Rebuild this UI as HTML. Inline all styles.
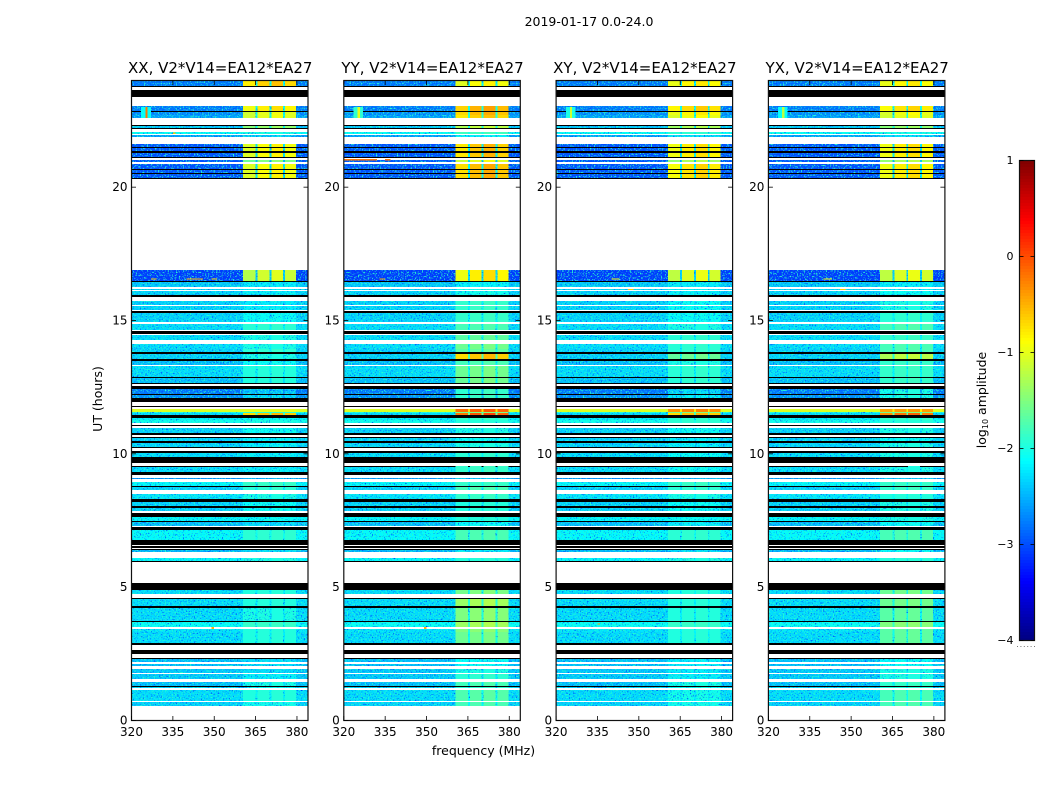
<!DOCTYPE html>
<html lang="en">
<head>
<meta charset="utf-8">
<title>2019-01-17 0.0-24.0 dynamic spectra</title>
<style>
html,body{margin:0;padding:0;background:#fff;width:1050px;height:800px;overflow:hidden}
svg{display:block}
text{font-family:"DejaVu Sans","Liberation Sans",sans-serif;fill:#000}
</style>
</head>
<body>
<svg id="chart" xmlns="http://www.w3.org/2000/svg" width="1050" height="800" viewBox="0 0 1050 800">
  <defs>
    <filter id="speckle" x="0" y="0" width="1050" height="800" filterUnits="userSpaceOnUse" color-interpolation-filters="sRGB">
      <feTurbulence type="fractalNoise" baseFrequency="0.72" numOctaves="1" seed="7" result="n"/>
      <feColorMatrix in="n" type="matrix" values="0 0 0 0 0  0 0 0 0 0.3  0 0 0 0 1  5 0 0 0 -2.8" result="dark"/>
      <feComposite in="dark" in2="SourceAlpha" operator="in" result="darkClip"/>
      <feColorMatrix in="n" type="matrix" values="0 0 0 0 0.15  0 0 0 0 1  0 0 0 0 0.8  0 5 0 0 -2.6" result="light"/>
      <feComposite in="light" in2="SourceAlpha" operator="in" result="lightClip"/>
      <feMerge>
        <feMergeNode in="SourceGraphic"/>
        <feMergeNode in="darkClip"/>
        <feMergeNode in="lightClip"/>
      </feMerge>
    </filter>
  </defs>
  <text x="589" y="26" font-size="12.5" text-anchor="middle">2019-01-17 0.0-24.0</text>
  <text x="483.5" y="755" font-size="12.5" text-anchor="middle">frequency (MHz)</text>
  <text x="0" y="0" font-size="12.5" text-anchor="middle" transform="translate(102 399) rotate(-90)">UT (hours)</text>
  <text x="0" y="0" font-size="12.5" text-anchor="middle" transform="translate(986 400) rotate(-90)">log<tspan font-size="8" dy="2">10</tspan><tspan dy="-2"> amplitude</tspan></text>
</svg>
<script>
// Panel names
const panelNames = ['XX', 'YY', 'XY', 'YX'];
const panelSuffix = ', V2*V14=EA12*EA27';

// Axis ticks
const freqTicks = [320, 335, 350, 365, 380];
const utTicks = [0, 5, 10, 15, 20];
const colorTicks = [1, 0, -1, -2, -3, -4];

// Lower UT edge (hours) of each time band, top to bottom
const bandUT = [
  23.81,23.78,23.64,23.37,23.03,22.85,22.81,22.69,22.59,22.35,
  22.31,22.22,22.17,22.07,21.99,21.95,21.90,21.63,21.51,21.47,
  21.34,21.30,21.15,21.11,21.03,20.94,20.88,20.70,20.66,20.53,
  20.49,20.36,20.33,16.90,16.49,16.45,16.25,16.20,16.14,16.11,
  15.96,15.87,15.72,15.59,15.54,15.40,15.36,15.27,15.03,14.93,
  14.87,14.66,14.60,14.50,14.46,14.28,14.13,13.94,13.80,13.76,
  13.56,13.50,13.35,13.28,12.90,12.85,12.66,12.63,12.53,12.42,
  12.25,12.19,12.11,11.96,11.81,11.75,11.69,11.56,11.52,11.46,
  11.35,11.28,11.15,11.10,11.04,10.98,10.80,10.70,10.65,10.60,
  10.47,10.40,10.27,10.23,10.10,10.02,9.87,9.65,9.56,9.54,
  9.31,9.19,9.08,9.04,8.94,8.81,8.74,8.63,8.48,8.31,
  8.19,8.03,7.97,7.85,7.78,7.62,7.50,7.44,7.31,7.24,
  7.13,6.78,6.60,6.53,6.47,6.43,6.39,6.32,6.11,6.00,
  5.96,5.16,4.88,4.73,4.60,4.56,4.28,4.23,3.75,3.68,
  3.50,3.44,3.31,2.90,2.84,2.64,2.48,2.35,2.31,2.19,
  2.13,2.03,1.92,1.77,1.73,1.55,1.46,1.30,1.26,1.22,
  1.14,0.75,0.71,0.55,0
];

// Band state: d = data, k = zero amplitude (black), w = no data (white)
const bandKind = (
  'dkwkwdkddw' + 'kdkwdwdwdk' + 'dkdkwdwdkd' + 'kdkwdkdwdw' +
  'dkwdwdwkdd' + 'wdwkwdwddk' + 'dkdwdkdkwk' + 'dkdkwkwddd' +
  'kddwkwdkwk' + 'dkdkwkdkwk' + 'dkwdwdkdwd' + 'kdkdwkdkdw' +
  'kdkwkwkdwd' + 'kwkdwkdkdk' + 'dwddkwkwkd' + 'wdwdwdwdkd' + 'wdwdw'
).split('');

// log10 amplitude for each data band: out-of-band channels
const lowBand = [
  -2.8,-2.8,-2.7,-2.6,
  -2.4,-2.1,-2.6,-3,
  -3,-3,-3,-3,-3,
  -3,-3.1,-2.4,-2.35,
  -2.35,-2.35,-2.35,-2.35,-2.35,
  -2.3,-2.3,-2.3,-2.35,
  -2.35,-2.45,-2.3,-2.45,
  -2.8,-2.7,-1.05,-2,-2.3,
  -2.2,-2.05,-2.35,
  -2.35,-2.35,-2.3,
  -2.3,-2.7,-2.15,-2.35,-2.25,
  -2.35,-2.35,-2.15,-2.45,
  -2.15,-2.5,-2.15,
  -2.3,-2.3,-2.3,
  -2.1,-2.25,-2.3,-2.45,
  -2.45,-2.4,-2.4,-2.45,-2.35,
  -2.3,-2.35
];

// log10 amplitude for each data band: high-band channels, per polarisation
const highXX = [
  -.65,-.8,-1,-1,
  -1.4,-2,-2.4,-.9,
  -.9,-.9,-1.5,-.9,-.9,
  -.9,-1.1,-2.2,-2.2,
  -2.2,-2.2,-2.2,-2.1,-2.1,
  -1.9,-2,-2,-1.9,
  -2,-2.1,-1.95,-1.95,
  -2.4,-2.3,-1,-1.9,-.6,
  -2.1,-2,-2.1,
  -2.2,-2.2,-2.2,
  -2.2,-2.5,-1.85,-1.9,-2,
  -2.1,-2.1,-2.1,-2.3,
  -1.9,-2.3,-2,
  -1.95,-1.95,-2,
  -1.85,-1.95,-1.95,-2.3,
  -2.3,-2.3,-2.2,-2,-2.1,
  -1.95,-2.05
];
const highYY = [
  -.9,-.5,-.55,-.65,
  -1.2,-1.8,-2.2,-.6,
  -.6,-.6,-1,-.55,-.55,
  -.55,-.8,-2.15,-2.05,
  -2.05,-1.85,-1.85,-1.85,-1.85,
  -1.75,-1.65,-1.55,-1.65,
  -.6,-1.75,-1.55,-1.55,
  -1.85,-1.85,-.1,-1.5,-.05,
  -1.85,-1.95,-2,
  -2.1,-2,-1.9,
  -1.85,-2.4,-1.85,-1.75,-1.85,
  -1.95,-1.95,-1.95,-2.1,
  -1.75,-2.2,-1.95,
  -1.5,-1.3,-1.45,
  -1.3,-1.45,-1.55,-2.1,
  -2.1,-2,-1.9,-1.75,-1.9,
  -1.7,-1.75
];
const highXY = [
  -.85,-.7,-.85,-.95,
  -1.3,-1.9,-2.3,-.8,
  -.8,-.8,-1.3,-.75,-.75,
  -.75,-1.05,-2.2,-2.2,
  -2.2,-2.1,-2.1,-2.1,-2.1,
  -2,-1.9,-1.9,-1.9,
  -1.6,-2,-1.9,-1.9,
  -2.3,-2.2,-.3,-1.5,-.6,
  -1.9,-1.9,-2.1,
  -2.2,-2.2,-2.1,
  -2.1,-2.5,-1.85,-1.9,-2,
  -2.1,-2.1,-2.1,-2.2,
  -1.9,-2.3,-2,
  -1.95,-1.95,-1.95,
  -1.85,-1.95,-1.95,-2.2,
  -2.2,-2.2,-2.2,-2,-2.1,
  -2.05,-2.05
];
const highYX = [
  -.85,-.75,-.95,-1,
  -1.4,-2,-2.3,-.8,
  -.8,-.8,-1.3,-.8,-.8,
  -.8,-1.05,-2.2,-2.2,
  -2.1,-2,-2,-1.9,-1.9,
  -1.75,-1.85,-1.75,-1.75,
  -1.2,-1.85,-1.85,-1.85,
  -2,-2,-.4,-1.5,-.2,
  -1.85,-1.95,-2,
  -2.1,-2,-2,
  -2,-2.4,-1.85,-1.85,-1.95,
  -2,-2,-2,-2.1,
  -1.75,-2.1,-1.95,
  -1.55,-1.55,-1.65,
  -1.45,-1.65,-1.65,-2.1,
  -2.1,-2,-2,-1.85,-1.95,
  -1.75,-1.75
];

// Frequency channels (MHz edges) and how much of the high-band level each one reaches
const chanEdges = [320, 360.5, 365, 365.7, 370, 370.7, 375, 375.7, 379.7, 384];
const chanGain = [0, 0.93, 0.35, 1, 0.35, 1.04, 0.35, 0.98, 0];

// Narrow interference features
const spotPanel = [0, 1, 2, 3, 0, 1, 2, 3, 0, 1, 2, 3, 0, 0, 1, 1, 2, 3, 0, 1, 0, 2];
const spotFreqLo = [323.5, 323.5, 323.5, 323.5, 325, 325, 325, 325, 340, 333, 340, 340, 327, 349, 320, 335, 346, 346, 349, 349, 335, 335];
const spotFreqHi = [327, 327, 327, 327, 325.8, 325.8, 325.8, 325.8, 346, 335, 343, 343, 329, 351, 332, 337, 348, 348, 350, 350, 336, 336];
const spotUTLo = [22.6, 22.6, 22.6, 22.6, 22.6, 22.6, 22.6, 22.6, 16.53, 16.53, 16.53, 16.53, 16.53, 16.53, 21.0, 21.0, 16.15, 16.15, 3.44, 3.44, 22.05, 3.6];
const spotUTHi = [23.0, 23.0, 23.0, 23.0, 23.0, 23.0, 23.0, 23.0, 16.58, 16.58, 16.58, 16.58, 16.58, 16.58, 21.06, 21.06, 16.19, 16.19, 3.5, 3.5, 22.0, 3.64];
const spotLevel = [-2.1, -1.9, -2, -2.1, -0.2, -1.0, -1.1, -1.2, -0.6, -0.4, -0.9, -0.9, -0.7, -0.7, -0.2, -0.2, -0.6, -0.6, -0.5, -0.5, -0.6, -0.4];

const highByPanel = [highXX, highYY, highXY, highYX];

// Layout
const SVGNS = 'http://www.w3.org/2000/svg';
const svg = document.getElementById('chart');
const plotTop = 80.5, plotBottom = 720.5, plotWidth = 176.5, firstLeft = 131.5, panelStep = 212.3;
const freqMin = 320, freqMax = 384, utMin = 0, utMax = 24;
const colorMin = -4, colorMax = 1;
const barLeft = 1019.5, barRight = 1034.5, barTop = 160.5, barBottom = 640.5;

function xScale(panelLeft, mhz) { return panelLeft + (mhz - freqMin) / (freqMax - freqMin) * plotWidth; }
function yScale(ut) { return plotBottom - (ut - utMin) / (utMax - utMin) * (plotBottom - plotTop); }
function barScale(v) { return barBottom - (v - colorMin) / (colorMax - colorMin) * (barBottom - barTop); }

function jet(v) {
  const t = Math.max(0, Math.min(1, (v - colorMin) / (colorMax - colorMin)));
  const ramp = function (c) { return Math.round(255 * Math.max(0, Math.min(1, 1.5 - Math.abs(4 * t - c)))); };
  return 'rgb(' + ramp(3) + ',' + ramp(2) + ',' + ramp(1) + ')';
}
function node(tag, attrs, parent) {
  const el = document.createElementNS(SVGNS, tag);
  for (const k in attrs) { el.setAttribute(k, attrs[k]); }
  parent.appendChild(el);
  return el;
}

panelNames.forEach(function (name, p) {
  const left = firstLeft + panelStep * p;
  const right = left + plotWidth;
  const centre = left + plotWidth / 2;

  const panel = node('g', {}, svg);
  
  

  const speckled = node('g', { filter: 'url(#speckle)', 'shape-rendering': 'crispEdges' }, panel);
  
  
  const solid = node('g', { 'shape-rendering': 'crispEdges' }, panel);
  
  

  let upper = utMax;
  let dataIndex = 0;
  bandUT.forEach(function (lower, b) {
    const kind = bandKind[b];
    const y0 = Math.round(yScale(upper));
    const y1 = Math.max(y0 + 1, Math.round(yScale(lower)));
    if (kind === 'k') {
      const flagged = node('rect', { x: left, y: y0, width: plotWidth, height: y1 - y0, fill: '#000' }, solid);
      
      
    } else if (kind === 'd') {
      const low = lowBand[dataIndex];
      const high = highByPanel[p][dataIndex];
      chanGain.forEach(function (gain, c) {
        const level = low + (high - low) * gain;
        const x0 = xScale(left, chanEdges[c]);
        const x1 = xScale(left, chanEdges[c + 1]);
        const cell = node('rect', { x: x0, y: y0, width: x1 - x0, height: y1 - y0, fill: jet(level) }, level > -2.0 ? solid : speckled);
        
        
      });
      dataIndex++;
    }
    upper = lower;
  });

  spotPanel.forEach(function (sp, s) {
    if (sp !== p) { return; }
    const x0 = xScale(left, spotFreqLo[s]);
    const x1 = xScale(left, spotFreqHi[s]);
    const y0 = yScale(Math.max(spotUTLo[s], spotUTHi[s]));
    const y1 = yScale(Math.min(spotUTLo[s], spotUTHi[s]));
    const spot = node('rect', { x: x0, y: y0, width: x1 - x0, height: Math.max(1, y1 - y0), fill: jet(spotLevel[s]), 'shape-rendering': 'crispEdges' }, panel);
    
    
  });

  const frame = node('rect', { x: left, y: plotTop, width: plotWidth, height: plotBottom - plotTop, fill: 'none', stroke: '#111', 'stroke-width': 1.2 }, panel);
  
  

  freqTicks.forEach(function (f) {
    const x = xScale(left, f);
    const tickB = node('line', { x1: x, x2: x, y1: plotBottom, y2: plotBottom - 4.5, stroke: '#000', 'stroke-width': 0.8 }, panel);
    
    
    const tickT = node('line', { x1: x, x2: x, y1: plotTop, y2: plotTop + 4.5, stroke: '#000', 'stroke-width': 0.8 }, panel);
    
    
    const label = node('text', { x: x, y: 736, 'font-size': 12, 'text-anchor': 'middle' }, panel);
    
    
    label.textContent = String(f);
  });

  utTicks.forEach(function (u) {
    const y = yScale(u);
    const tickL = node('line', { x1: left, x2: left + 4.5, y1: y, y2: y, stroke: '#000', 'stroke-width': 0.8 }, panel);
    
    
    const tickR = node('line', { x1: right, x2: right - 4.5, y1: y, y2: y, stroke: '#000', 'stroke-width': 0.8 }, panel);
    
    
    const label = node('text', { x: left - 4, y: y + 4, 'font-size': 12, 'text-anchor': 'end' }, panel);
    
    
    label.textContent = String(u);
  });

  const title = node('text', { x: centre + 0.5, y: 73, 'font-size': 15, 'text-anchor': 'middle' }, panel);
  
  
  title.textContent = name + panelSuffix;
});

// Colour bar
const bar = node('g', {}, svg);


const barSteps = 160;
for (let i = 0; i < barSteps; i++) {
  const v0 = colorMin + (colorMax - colorMin) * i / barSteps;
  const v1 = colorMin + (colorMax - colorMin) * (i + 1) / barSteps;
  const swatch = node('rect', { x: barLeft, y: barScale(v1), width: barRight - barLeft, height: barScale(v0) - barScale(v1) + 0.5, fill: jet((v0 + v1) / 2), 'shape-rendering': 'crispEdges' }, bar);
  
  
}
const barFrame = node('rect', { x: barLeft, y: barTop, width: barRight - barLeft, height: barBottom - barTop, fill: 'none', stroke: '#111', 'stroke-width': 1.2 }, bar);


colorTicks.forEach(function (v) {
  const y = barScale(v);
  const t1 = node('line', { x1: barLeft, x2: barLeft + 4, y1: y, y2: y, stroke: '#000', 'stroke-width': 0.8 }, bar);
  
  
  const t2 = node('line', { x1: barRight, x2: barRight - 4, y1: y, y2: y, stroke: '#000', 'stroke-width': 0.8 }, bar);
  
  
  const label = node('text', { x: 1013.5, y: y + 3.5, 'font-size': 11, 'text-anchor': 'end' }, bar);
  
  
  label.textContent = String(v).replace('-', '\u2212');
});
const dots = node('line', { x1: 1017, x2: 1035, y1: 646.5, y2: 646.5, stroke: '#777', 'stroke-width': 1, 'stroke-dasharray': '1 2.4' }, bar);


</script>
</body>
</html>
